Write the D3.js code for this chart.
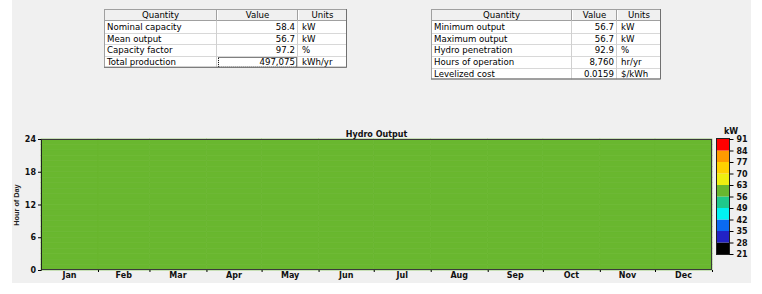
<!DOCTYPE html>
<html lang="en">
<head>
    <meta charset="UTF-8">
    <title>Hydro Output</title>
    <script src="https://d3js.org/d3.v7.min.js"></script>
    <style>
        body {
            margin: 0;
            background: #ffffff;
        }
        .tbl text {
            font-family: "DejaVu Sans", sans-serif;
            font-size: 8.6px;
            fill: #000;
        }
        .chartText {
            font-family: "DejaVu Sans", sans-serif;
            font-weight: bold;
            font-size: 8px;
            fill: #111;
        }
    </style>
</head>
<body>
<script>
    // summary tables
    const leftQuantity = ["Nominal capacity", "Mean output", "Capacity factor", "Total production"];
    const leftValue = ["58.4", "56.7", "97.2", "497,075"];
    const leftUnits = ["kW", "kW", "%", "kWh/yr"];

    const rightQuantity = ["Minimum output", "Maximum output", "Hydro penetration", "Hours of operation", "Levelized cost"];
    const rightValue = ["56.7", "56.7", "92.9", "8,760", "0.0159"];
    const rightUnits = ["kW", "kW", "%", "hr/yr", "$/kWh"];

    // heat map: month x hour of day, kW
    const months = ["Jan", "Feb", "Mar", "Apr", "May", "Jun", "Jul", "Aug", "Sep", "Oct", "Nov", "Dec"];
    const monthDays = [31, 28, 31, 30, 31, 30, 31, 31, 30, 31, 30, 31];
    const monthlyOutput = [56.7, 56.7, 56.7, 56.7, 56.7, 56.7, 56.7, 56.7, 56.7, 56.7, 56.7, 56.7];
    const hours = d3.range(24);
    const hourTicks = [0, 6, 12, 18, 24];

    // legend
    const legendBreaks = [21, 28, 35, 42, 49, 56, 63, 70, 77, 84, 91];
    const legendColors = ["#000000", "#2222c4", "#0a6af2", "#00f2f2", "#1fc98c",
                          "#69b72f", "#eeee10", "#ffd000", "#ff9a00", "#ff0000"];

    const svg = d3.select("body").append("svg")
        .attr("width", 762)
        .attr("height", 294);

    svg.append("rect")
        .attr("x", 12).attr("y", 0)
        .attr("width", 739).attr("height", 283)
        .attr("fill", "#f0f0f0");

    function drawTable(cols, quantity, value, units, focusRow) {
        const top = 9, headH = 12, rowH = 11.7;
        const g = svg.append("g").attr("class", "tbl");
        const left = cols[0], right = cols[3];
        const bottom = top + headH + rowH * quantity.length;

        g.append("rect")
            .attr("x", left).attr("y", top + headH)
            .attr("width", right - left).attr("height", bottom - top - headH)
            .attr("fill", "#fff");

        // header buttons
        ["Quantity", "Value", "Units"].forEach((h, i) => {
            const x0 = cols[i], x1 = cols[i + 1];
            g.append("rect")
                .attr("x", x0).attr("y", top)
                .attr("width", x1 - x0).attr("height", headH)
                .attr("fill", "#f0f0f0");
            g.append("path")
                .attr("d", `M${x0 + 0.5},${top + headH}V${top + 0.5}H${x1}`)
                .attr("fill", "none").attr("stroke", "#fff");
            g.append("path")
                .attr("d", `M${x1 - 0.5},${top}V${top + headH - 0.5}H${x0}`)
                .attr("fill", "none").attr("stroke", "#a0a0a0");
            g.append("text")
                .attr("x", (x0 + x1) / 2).attr("y", top + 9)
                .attr("text-anchor", "middle")
                .text(h);
        });

        quantity.forEach((q, i) => {
            const y = top + headH + rowH * i;
            if (i > 0) {
                g.append("line")
                    .attr("x1", left).attr("x2", right)
                    .attr("y1", Math.round(y) + 0.5).attr("y2", Math.round(y) + 0.5)
                    .attr("stroke", "#d8d8d8");
            }
            g.append("text").attr("x", cols[0] + 3).attr("y", y + 9).text(q);
            g.append("text").attr("x", cols[2] - 3).attr("y", y + 9)
                .attr("text-anchor", "end").text(value[i]);
            g.append("text").attr("x", cols[2] + 4).attr("y", y + 9).text(units[i]);
            if (i === focusRow) {
                g.append("rect")
                    .attr("x", cols[1] + 1.5).attr("y", Math.round(y) + 1.5)
                    .attr("width", cols[2] - cols[1] - 3).attr("height", rowH - 2)
                    .attr("fill", "none").attr("stroke", "#000")
                    .attr("stroke-dasharray", "1,1");
            }
        });

        [cols[1], cols[2]].forEach(cx => {
            g.append("line")
                .attr("x1", cx - 0.5).attr("x2", cx - 0.5)
                .attr("y1", top + headH).attr("y2", bottom)
                .attr("stroke", "#d0d0d0");
        });

        g.append("rect")
            .attr("x", left + 0.5).attr("y", top + 0.5)
            .attr("width", right - left - 1).attr("height", bottom - top - 1)
            .attr("fill", "none").attr("stroke", "#a0a0a0");
        g.append("path")
            .attr("d", `M${right - 0.5},${top}V${bottom - 0.5}H${left}`)
            .attr("fill", "none").attr("stroke", "#707070");
    }

    drawTable([104, 217, 298, 347], leftQuantity, leftValue, leftUnits, 3);
    drawTable([431, 572, 617, 661], rightQuantity, rightValue, rightUnits, -1);

    // heat map
    const plot = {left: 41, right: 712, top: 139, bottom: 270};
    const dayStart = d3.cumsum([0].concat(monthDays));

    const x = d3.scaleLinear().domain([0, 365]).range([plot.left, plot.right]);
    const y = d3.scaleLinear().domain([0, 24]).range([plot.bottom, plot.top]);
    const color = d3.scaleThreshold()
        .domain(legendBreaks.slice(1, -1))
        .range(legendColors);

    const cells = [];
    months.forEach((m, i) => {
        hours.forEach(h => {
            cells.push({month: i, hour: h, kw: monthlyOutput[i]});
        });
    });

    svg.append("g").attr("id", "cells")
        .selectAll("rect").data(cells).join("rect")
        .attr("x", d => x(dayStart[d.month]))
        .attr("width", d => x(dayStart[d.month + 1]) - x(dayStart[d.month]))
        .attr("y", d => y(d.hour + 1))
        .attr("height", d => y(d.hour) - y(d.hour + 1))
        .attr("fill", d => color(d.kw))
        .attr("stroke", d => color(d.kw))
        .attr("stroke-width", 0.6);

    svg.append("rect")
        .attr("x", plot.left + 0.5).attr("y", plot.top + 0.5)
        .attr("width", plot.right - plot.left - 1).attr("height", plot.bottom - plot.top - 1)
        .attr("fill", "none").attr("stroke", "#3a3a3a");

    // y axis
    const yAxis = svg.append("g")
        .attr("transform", "translate(" + plot.left + ",0)")
        .call(d3.axisLeft(y).tickValues(hourTicks).tickSize(3).tickPadding(2));
    yAxis.select(".domain").attr("stroke", "#222");
    yAxis.selectAll("text").attr("class", "chartText").attr("font-size", null).attr("font-family", null);

    // x axis ticks at month boundaries
    const xAxis = svg.append("g")
        .attr("transform", "translate(0," + plot.bottom + ")")
        .call(d3.axisBottom(x).tickValues(dayStart.slice(1)).tickSize(2).tickFormat(""));
    xAxis.select(".domain").remove();

    svg.append("g").selectAll("text").data(months).join("text")
        .attr("class", "chartText")
        .attr("x", (d, i) => x((dayStart[i] + dayStart[i + 1]) / 2))
        .attr("y", 277.5)
        .attr("text-anchor", "middle")
        .text(d => d);

    svg.append("text")
        .attr("class", "chartText")
        .attr("x", (plot.left + plot.right) / 2)
        .attr("y", 137)
        .attr("text-anchor", "middle")
        .attr("font-size", "8.5px")
        .text("Hydro Output");

    svg.append("text")
        .attr("transform", "translate(19,205) rotate(-90)")
        .attr("text-anchor", "middle")
        .attr("font-family", "Liberation Sans, Arial, sans-serif")
        .attr("font-size", "7.3px")
        .attr("font-weight", "bold")
        .attr("fill", "#222")
        .text("Hour of Day");

    // legend
    const ly = d3.scaleLinear().domain([21, 91]).range([254, 139]);
    const legend = svg.append("g");
    legend.selectAll("rect").data(legendColors).join("rect")
        .attr("x", 717)
        .attr("width", 12)
        .attr("y", (d, i) => ly(legendBreaks[i + 1]))
        .attr("height", (d, i) => ly(legendBreaks[i]) - ly(legendBreaks[i + 1]))
        .attr("fill", d => d);
    legend.append("rect")
        .attr("x", 716.5).attr("y", 138.5)
        .attr("width", 13).attr("height", 116)
        .attr("fill", "none").attr("stroke", "#222");
    const lAxis = legend.append("g")
        .attr("transform", "translate(729.5,0)")
        .call(d3.axisRight(ly).tickValues(legendBreaks).tickSize(4).tickPadding(3));
    lAxis.select(".domain").remove();
    lAxis.selectAll("text").attr("class", "chartText").attr("font-size", null).attr("font-family", null);

    legend.append("text")
        .attr("class", "chartText")
        .attr("x", 731).attr("y", 134)
        .attr("text-anchor", "middle")
        .text("kW");
</script>
</body>
</html>
